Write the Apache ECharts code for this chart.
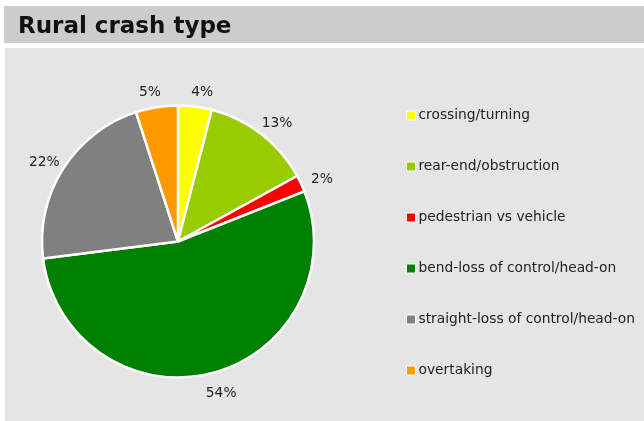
<!DOCTYPE html>
<html><head><meta charset="utf-8">
<script src="https://cdn.jsdelivr.net/npm/echarts@6/dist/echarts.min.js"></script>
<style>html,body{margin:0;padding:0;background:#fff}#c{width:644px;height:421px}</style>
</head><body><div id="c"></div>
<script>
const categories = ['crossing/turning','rear-end/obstruction','pedestrian vs vehicle','bend-loss of control/head-on','straight-loss of control/head-on','overtaking'];
const values = [4, 13, 2, 54, 22, 5];
const colors = ['#ffff00','#99cc00','#ff0000','#008000','#808080','#ff9900'];
const titleText = 'Rural crash type';

const chart = echarts.init(document.getElementById('c'));
chart.setOption({
  animation: false,
  backgroundColor: '#ffffff',
  graphic: [
    {type:'rect', shape:{x:4,y:6,width:640,height:37}, style:{fill:'#cccccc'}, z:-10},
    {type:'rect', shape:{x:5,y:48,width:639,height:373}, style:{fill:'#e5e5e5'}, z:-10},
    {type:'text', left:18, top:16, style:{text:titleText, font:'bold 23px "DejaVu Sans"', fill:'#111'}, z:10}
  ],
  legend: {
    orient:'vertical', left:401, top:102.5,
    itemWidth:9, itemHeight:9, itemGap:35,
    icon:'rect',
    itemStyle:{borderColor:'#ffffff', borderWidth:1},
    textStyle:{fontFamily:'DejaVu Sans', fontSize:13.8, color:'#222', lineHeight:16, padding:[0,0,0,-2]},
    data: categories
  },
  series: [{
    type:'pie',
    center:[178,241.5], radius:136,
    startAngle:90, clockwise:true,
    label:{show:true, position:'outside', formatter:'{c}%', fontFamily:'DejaVu Sans', fontSize:13.8, color:'#222', distanceToLabelLine:0},
    labelLine:{show:false, length:17.5, length2:0},
    labelLayout: function (p) {
      return {align:'center', verticalAlign:'middle', dx: p.align === 'right' ? -4 : 5, dy: 3};
    },
    itemStyle:{borderColor:'#ffffff', borderWidth:2.5},
    data: categories.map((n,i)=>({name:n, value:values[i], itemStyle:{color:colors[i]}}))
  }]
});
</script></body></html>
